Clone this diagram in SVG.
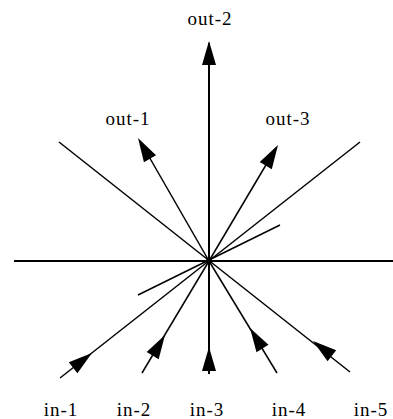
<svg xmlns="http://www.w3.org/2000/svg" xmlns:xlink="http://www.w3.org/1999/xlink" width="393" height="419" viewBox="0 0 393 419">
<style>
.ln{stroke:#000;stroke-width:1.5;fill:none}
.ax{stroke:#000;stroke-width:2;fill:none}
.lbl{font-family:"Liberation Serif","Times New Roman",serif;font-size:19px;letter-spacing:1px;fill:#000;text-anchor:middle}
.ah{fill:#000}
</style>
<defs>
<path id="ah" d="M0,0 L-24,-7 L-24,7 Z"/>
</defs>
<rect width="393" height="419" fill="#fff"/>
<g id="connectors">
<line class="ax" x1="14" y1="261" x2="393" y2="261"/>
<line class="ax" x1="209" y1="43" x2="209" y2="374"/>
<line class="ln" x1="59" y1="142" x2="350" y2="372"/>
<line class="ln" x1="360" y1="142" x2="60" y2="378"/>
<line class="ln" x1="280" y1="225" x2="138" y2="295"/>
<line class="ln" x1="209" y1="261" x2="140" y2="141"/>
<line class="ln" x1="209" y1="261" x2="276" y2="148"/>
<line class="ln" x1="209" y1="261" x2="142" y2="373"/>
<line class="ln" x1="209" y1="261" x2="277" y2="373"/>
<circle cx="209" cy="261" r="3" fill="#000"/>
<use xlink:href="#ah" class="ah" transform="translate(209,41) rotate(-90)"/>
<use xlink:href="#ah" class="ah" transform="translate(138,138) rotate(-120)"/>
<use xlink:href="#ah" class="ah" transform="translate(278,145) rotate(-59.3)"/>
<use xlink:href="#ah" class="ah" transform="translate(92,353) rotate(-38.1)"/>
<use xlink:href="#ah" class="ah" transform="translate(165,335) rotate(-59.1)"/>
<use xlink:href="#ah" class="ah" transform="translate(209,347) rotate(-90)"/>
<use xlink:href="#ah" class="ah" transform="translate(250,328) rotate(-121.3)"/>
<use xlink:href="#ah" class="ah" transform="translate(313,341) rotate(-142)"/>
</g>
<g id="out-2"><text class="lbl" x="210" y="25">out-2</text></g>
<g id="out-1"><text class="lbl" x="128" y="125">out-1</text></g>
<g id="out-3"><text class="lbl" x="288" y="125">out-3</text></g>
<g id="in-1"><text class="lbl" x="61" y="416">in-1</text></g>
<g id="in-2"><text class="lbl" x="134" y="416">in-2</text></g>
<g id="in-3"><text class="lbl" x="207" y="416">in-3</text></g>
<g id="in-4"><text class="lbl" x="289" y="416">in-4</text></g>
<g id="in-5"><text class="lbl" x="371" y="416">in-5</text></g>
</svg>
